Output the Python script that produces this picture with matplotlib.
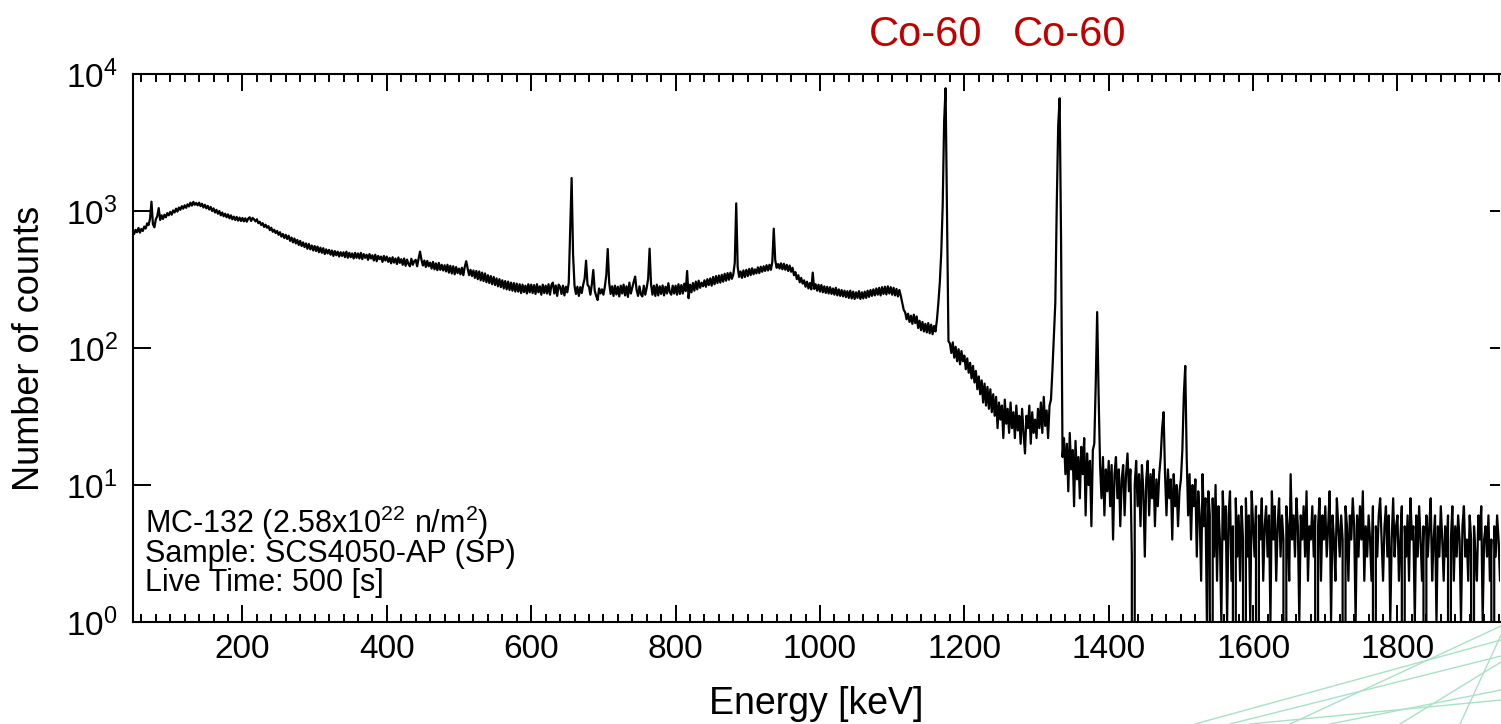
import numpy as np
import matplotlib.pyplot as plt
from matplotlib.ticker import MultipleLocator, LogLocator, NullLocator
from matplotlib.lines import Line2D

plt.rcParams['font.family'] = ['Liberation Sans', 'DejaVu Sans']
plt.rcParams['mathtext.fontset'] = 'custom'
plt.rcParams['mathtext.rm'] = 'Liberation Sans'
plt.rcParams['mathtext.default'] = 'regular'

# Gamma spectrum, 2 keV bins starting at 40 keV (10 bins per row)
counts_040_400 = [
    690, 735, 670, 712, 745, 680, 728, 700, 752, 695,
    740, 715, 770, 745, 812, 790, 880, 1170, 800, 760,
    870, 915, 1050, 860, 930, 875, 940, 900, 965, 930,
    985, 940, 1010, 975, 1040, 990, 1060, 1020, 1085, 1040,
    1100, 1055, 1120, 1080, 1150, 1095, 1165, 1110, 1145, 1100,
    1150, 1085, 1130, 1060, 1110, 1045, 1090, 1025, 1070, 1000,
    1045, 975, 1020, 955, 1000, 930, 975, 915, 955, 900,
    945, 885, 930, 870, 910, 860, 905, 850, 895, 845,
    890, 840, 885, 835, 880, 900, 845, 890, 870, 840,
    870, 815, 835, 790, 815, 765, 795, 755, 775, 725,
    755, 705, 730, 690, 715, 670, 700, 650, 680, 635,
    670, 625, 660, 605, 640, 590, 630, 580, 615, 565,
    605, 555, 590, 545, 580, 530, 575, 525, 560, 515,
    555, 510, 550, 500, 540, 495, 535, 485, 525, 490,
    520, 480, 515, 470, 510, 475, 505, 465, 500, 470,
    500, 460, 505, 455, 495, 460, 490, 450, 495, 455,
    490, 450, 495, 445, 485, 455, 480, 440, 485, 450,
    475, 435, 480, 430, 470, 445, 465, 425, 470, 435,
]
counts_400_800 = [
    465, 425, 455, 415, 460, 420, 450, 410, 458, 418,
    445, 405, 450, 398, 442, 410, 395, 448, 405, 430,
    440, 395, 450, 505, 440, 400, 435, 390, 432, 395,
    420, 380, 425, 375, 415, 370, 418, 372, 405, 368,
    402, 362, 405, 355, 398, 350, 395, 345, 390, 352,
    380, 345, 385, 340, 392, 430, 380, 340, 372, 335,
    368, 325, 365, 318, 362, 312, 355, 308, 350, 302,
    340, 298, 335, 292, 330, 288, 322, 282, 318, 278,
    312, 272, 308, 268, 305, 265, 300, 262, 298, 258,
    295, 258, 292, 252, 290, 256, 285, 250, 292, 255,
    290, 252, 288, 248, 292, 255, 282, 245, 290, 252,
    285, 250, 292, 245, 288, 300, 250, 286, 240, 290,
    280, 248, 285, 242, 280, 255, 300, 700, 1740, 480,
    285, 248, 280, 240, 278, 252, 290, 320, 434, 290,
    280, 245, 292, 371, 262, 240, 224, 272, 250, 268,
    245, 280, 340, 528, 300, 248, 282, 240, 285, 246,
    280, 238, 285, 250, 290, 242, 282, 236, 300, 250,
    275, 305, 332, 265, 240, 282, 246, 238, 285, 245,
    275, 320, 531, 292, 245, 285, 240, 290, 242, 282,
    248, 286, 242, 280, 250, 297, 255, 245, 285, 250,
]
counts_800_1200 = [
    285, 245, 292, 248, 288, 250, 295, 260, 365, 231,
    290, 255, 298, 262, 305, 268, 310, 275, 300, 282,
    312, 280, 318, 288, 322, 285, 330, 292, 335, 298,
    338, 300, 342, 305, 348, 310, 352, 315, 355, 320,
    345, 420, 1137, 390, 330, 362, 325, 368, 330, 372,
    335, 378, 340, 382, 345, 375, 350, 388, 352, 392,
    360, 395, 365, 402, 368, 405, 372, 425, 743, 440,
    385, 410, 380, 415, 375, 412, 372, 405, 365, 400,
    360, 385, 340, 358, 318, 340, 302, 325, 295, 312,
    280, 305, 272, 298, 268, 355, 270, 292, 262, 290,
    258, 288, 255, 282, 252, 280, 250, 278, 248, 272,
    245, 275, 242, 268, 240, 265, 238, 262, 235, 260,
    232, 262, 230, 258, 228, 255, 232, 260, 228, 255,
    230, 258, 232, 262, 236, 265, 240, 268, 242, 272,
    245, 275, 242, 278, 248, 280, 246, 282, 250, 278,
    245, 275, 242, 270, 238, 265, 240, 213, 190, 182,
    162, 178, 155, 172, 150, 175, 152, 170, 140, 158,
    135, 155, 132, 150, 130, 152, 128, 148, 126, 145,
    132, 160, 213, 300, 493, 1100, 4500, 7870, 900, 112,
    108, 92, 110, 85, 102, 80, 98, 76, 95, 80,
]
counts_1200_1600 = [
    88, 70, 84, 66, 78, 60, 74, 56, 68, 50,
    62, 46, 58, 40, 55, 38, 52, 36, 50, 34,
    46, 32, 44, 26, 40, 30, 38, 22, 42, 28,
    36, 24, 40, 26, 34, 22, 38, 25, 32, 20,
    36, 24, 17, 32, 26, 38, 20, 34, 24, 30,
    22, 36, 26, 40, 24, 44, 27, 35, 22, 38,
    42, 69, 120, 213, 1100, 4200, 6650, 600, 16, 22,
    12, 20, 9, 24, 13, 18, 7, 21, 11, 16,
    8, 19, 12, 22, 6, 17, 10, 15, 5, 18,
    20, 55, 183, 45, 14, 8, 16, 6, 13, 9,
    15, 7, 14, 4, 12, 16, 8, 13, 5, 11,
    14, 6, 12, 17, 9, 13, 3, 0, 10, 15,
    7, 12, 5, 14, 9, 3, 11, 15, 6, 12,
    8, 13, 5, 11, 7, 12, 16, 26, 34, 12,
    6, 13, 8, 11, 4, 12, 7, 10, 5, 9,
    11, 18, 45, 74, 16, 6, 12, 4, 10, 7,
    11, 3, 9, 6, 2, 12, 5, 8, 1, 9,
    6, 0, 8, 3, 10, 2, 7, 4, 1, 9,
    4, 7, 1, 6, 9, 2, 5, 0, 8, 3,
    6, 2, 7, 4, 0, 8, 3, 6, 1, 9,
]
counts_1600_1960 = [
    5, 3, 7, 0, 6, 4, 8, 2, 5, 7,
    3, 6, 1, 9, 4, 7, 2, 5, 8, 3,
    6, 4, 0, 7, 5, 2, 12, 4, 6, 3,
    8, 5, 1, 6, 4, 7, 3, 9, 2, 5,
    4, 7, 3, 6, 0, 5, 8, 2, 6, 4,
    7, 3, 5, 9, 1, 6, 4, 2, 8, 5,
    3, 6, 4, 0, 7, 5, 2, 6, 4, 8,
    5, 1, 6, 3, 7, 4, 9, 2, 5, 3,
    6, 4, 2, 7, 0, 5, 3, 6, 8, 4,
    2, 5, 7, 3, 6, 1, 4, 8, 3, 5,
    6, 2, 4, 7, 0, 5, 3, 6, 2, 8,
    4, 5, 1, 6, 3, 7, 4, 2, 5, 0,
    6, 3, 5, 8, 2, 4, 6, 1, 5, 3,
    7, 4, 2, 5, 3, 6, 0, 4, 7, 2,
    5, 3, 6, 4, 1, 5, 7, 3, 4, 2,
    6, 4, 0, 5, 3, 2, 6, 4, 7, 1,
    4, 5, 3, 6, 2, 4, 0, 5, 3, 6,
    4, 2, 5, 3, 6, 1, 4, 5, 3, 2,
]

peak_labels = ['Co-60', 'Co-60']
info_lines = [
    'MC-132 (2.58x10$^{22}$ n/m$^{2}$)',
    'Sample: SCS4050-AP (SP)',
    'Live Time: 500 [s]',
]

counts = np.array(counts_040_400 + counts_400_800 + counts_800_1200
                  + counts_1200_1600 + counts_1600_1960, dtype=float)
energy = np.arange(40, 40 + 2 * len(counts), 2)

W, H = 1501, 724
fig = plt.figure(figsize=(W / 100, H / 100), dpi=100)
ax = fig.add_axes([133 / W, 1 - 622 / H, (1500 - 133) / W, (622 - 74) / H])

ax.plot(energy, counts, color='black', lw=1.6)
ax.set_yscale('log', nonpositive='clip')
ax.set_xlim(48.4, 1942)
ax.set_ylim(1, 1e4)

# x ticks inside, on top and bottom
ax.xaxis.set_major_locator(MultipleLocator(200))
ax.xaxis.set_minor_locator(MultipleLocator(20))
ax.tick_params(axis='x', which='major', direction='in', length=12, width=1.4,
               top=True, labelsize=24, pad=9)
ax.tick_params(axis='x', which='minor', direction='in', length=6, width=1.4,
               top=True)
ax.yaxis.set_major_locator(LogLocator(base=10))
ax.yaxis.set_minor_locator(NullLocator())
ax.tick_params(axis='y', which='major', direction='in', length=13, width=1.4,
               labelsize=24, pad=11)
for side in ['left', 'top', 'bottom']:
    ax.spines[side].set_linewidth(1.5)
ax.spines['right'].set_visible(False)

# shorter ticks on the right edge
ax_r = ax.twinx()
ax_r.set_yscale('log')
ax_r.set_ylim(1, 1e4)
ax_r.yaxis.set_minor_locator(NullLocator())
ax_r.tick_params(axis='y', direction='in', length=7, width=1.4, labelright=False)
for s in ax_r.spines.values():
    s.set_visible(False)

ax.set_xlabel('Energy [keV]', fontsize=27, labelpad=15)
ax.set_ylabel('Number of counts', fontsize=26, labelpad=14)

for label, xpos in zip(peak_labels, [1146, 1346]):
    ax.text(xpos, 1.071, label, color='#C00000', fontsize=30, ha='center',
            va='center', transform=ax.get_xaxis_transform(), clip_on=False)

for i, line in enumerate(info_lines):
    ax.text(0.0088, 0.163 - i * 0.053, line, fontsize=22, ha='left',
            va='baseline', transform=ax.transAxes)

# light decorative strokes in the lower right corner
deco = [((1195, 724), (1501, 640)), ((1230, 724), (1501, 656)),
        ((1290, 724), (1501, 626)), ((1330, 724), (1501, 690)),
        ((1400, 724), (1501, 662)), ((1250, 724), (1501, 700)),
        ((1460, 724), (1501, 635))]
for (x0, y0), (x1, y1) in deco:
    fig.add_artist(Line2D([x0 / W, x1 / W], [1 - y0 / H, 1 - y1 / H],
                          color='#a8e2c6', lw=1.0))

fig.savefig('out.png', dpi=100)
